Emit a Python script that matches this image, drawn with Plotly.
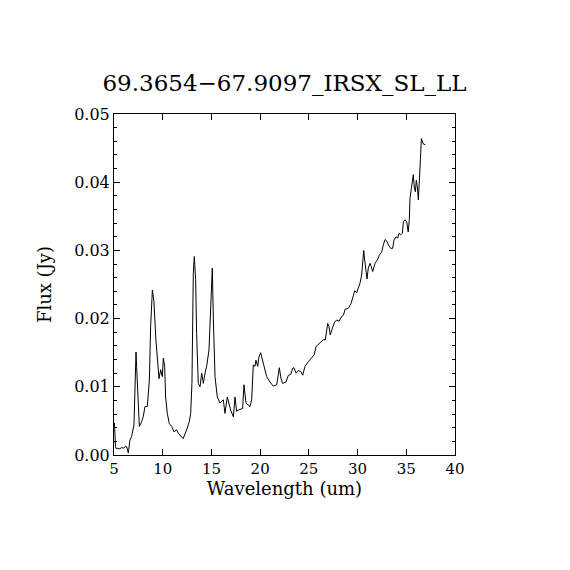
import plotly.graph_objects as go

# Spectrum (wavelength in um, flux in Jy)
wavelength = [5.05, 5.1, 5.15, 5.25, 5.4, 5.6, 5.8, 6.0, 6.2, 6.3, 6.47, 6.64, 6.8,
              7.05, 7.2, 7.26, 7.32, 7.45, 7.6, 7.84, 8.0, 8.18, 8.42, 8.63, 8.76,
              8.94, 9.1, 9.3, 9.48, 9.62, 9.79, 9.96, 10.06, 10.2, 10.3, 10.47, 10.68,
              10.92, 11.16, 11.43, 11.6, 11.94, 12.1, 12.46, 12.73, 12.87, 13.0,
              13.14, 13.24, 13.38, 13.48, 13.65, 13.83, 14.0, 14.17, 14.34, 14.51,
              14.75, 14.96, 15.09, 15.2, 15.37, 15.6, 15.88, 16.22, 16.39, 16.63,
              16.97, 17.25, 17.42, 17.59, 17.76, 18.2, 18.34, 18.55, 18.79, 18.96,
              19.13, 19.3, 19.47, 19.57, 19.75, 19.88, 20.05, 20.22, 20.43, 20.67,
              21.0, 21.35, 21.7, 21.86, 21.97, 22.14, 22.31, 22.65, 22.9, 23.14,
              23.34, 23.47, 23.68, 23.92, 24.19, 24.37, 24.6, 24.95, 25.29, 25.56,
              25.73, 25.97, 26.32, 26.48, 26.69, 26.83, 26.94, 27.07, 27.2, 27.41,
              27.65, 27.86, 28.1, 28.3, 28.54, 28.74, 29.05, 29.33, 29.56, 29.71,
              29.91, 30.08, 30.25, 30.42, 30.53, 30.63, 30.73, 30.86, 30.97, 31.1,
              31.28, 31.41, 31.55, 31.79, 32.03, 32.23, 32.48, 32.64, 32.82, 32.99,
              33.16, 33.4, 33.6, 33.74, 33.94, 34.12, 34.25, 34.42, 34.6, 34.7,
              34.87, 35.04, 35.2, 35.31, 35.38, 35.52, 35.65, 35.72, 35.82, 35.93,
              36.03, 36.13, 36.24, 36.34, 36.45, 36.55, 36.65, 36.75, 36.96]
flux = [0.0047, 0.0025, 0.0012, 0.0009, 0.0010, 0.0009, 0.0011, 0.0010, 0.0013, 0.0012,
        0.0003, 0.0022, 0.0027, 0.0044, 0.0120, 0.0151, 0.0130, 0.0080, 0.0042, 0.0049,
        0.0056, 0.0071, 0.0071, 0.0110, 0.0188, 0.0242, 0.0225, 0.0169, 0.0130, 0.0112,
        0.0125, 0.0115, 0.0142, 0.0130, 0.0085, 0.0061, 0.0046, 0.0042, 0.0034, 0.0037,
        0.0032, 0.0027, 0.0024, 0.0037, 0.0049, 0.0061, 0.0105, 0.0266, 0.0291, 0.0257,
        0.0178, 0.0105, 0.0100, 0.0120, 0.0105, 0.0120, 0.0130, 0.0154, 0.0242, 0.0274,
        0.0198, 0.0115, 0.0085, 0.0076, 0.0081, 0.0061, 0.0085, 0.0066, 0.0056, 0.0085,
        0.0064, 0.0066, 0.0068, 0.0103, 0.0076, 0.0073, 0.0071, 0.0081, 0.0132, 0.0130,
        0.0139, 0.0130, 0.0144, 0.0150, 0.0139, 0.0127, 0.0115, 0.0107, 0.0101, 0.0103,
        0.0115, 0.0128, 0.0112, 0.0105, 0.0107, 0.0117, 0.0118, 0.0127, 0.0128, 0.0120,
        0.0124, 0.0122, 0.0117, 0.0130, 0.0137, 0.0142, 0.0147, 0.0159, 0.0162, 0.0166,
        0.0169, 0.0169, 0.0183, 0.0193, 0.0188, 0.0176, 0.0186, 0.0195, 0.0198, 0.0196,
        0.0202, 0.0205, 0.0214, 0.0215, 0.0222, 0.0232, 0.0241, 0.0238, 0.0244, 0.0252,
        0.0264, 0.0281, 0.0300, 0.0286, 0.0266, 0.0258, 0.0274, 0.0281, 0.0276, 0.0269,
        0.0281, 0.0286, 0.0293, 0.0298, 0.0308, 0.0316, 0.0314, 0.0308, 0.0303, 0.0303,
        0.0315, 0.0320, 0.0318, 0.0325, 0.0323, 0.0325, 0.0342, 0.0345, 0.0342, 0.0327,
        0.0345, 0.0376, 0.0391, 0.0403, 0.0411, 0.0393, 0.0386, 0.0403, 0.0393, 0.0374,
        0.0396, 0.0433, 0.0464, 0.0459, 0.0456, 0.0455]

titulo = "69.3654\u221267.9097_IRSX_SL_LL"
fonte = "DejaVu Serif"

fig = go.Figure()
fig.add_trace(go.Scatter(x=wavelength, y=flux, mode="lines",
                         line=dict(color="black", width=1), showlegend=False))

# Formatação do gráfico (estilo IDL)
fig.update_layout(
    width=570, height=570,
    paper_bgcolor="white", plot_bgcolor="white",
    margin=dict(l=106, r=123, t=106, b=123),
    title=dict(text=titulo, xref="paper", x=0.5, xanchor="center",
               y=0.869, yanchor="middle",
               font=dict(family=fonte, size=23, color="black")),
    font=dict(family=fonte, size=15, color="black"),
    xaxis=dict(range=[5, 40], tickvals=[5, 10, 15, 20, 25, 30, 35, 40],
               ticks="inside", ticklen=6, tickcolor="black", showline=True,
               linecolor="black", linewidth=1, mirror="ticks", showgrid=False,
               zeroline=False, tickfont=dict(size=15),
               title=dict(text="Wavelength (um)", standoff=2)),
    yaxis=dict(range=[0, 0.05], tickvals=[0, 0.01, 0.02, 0.03, 0.04, 0.05],
               ticktext=["0.00", "0.01", "0.02", "0.03", "0.04", "0.05"],
               ticks="inside", ticklen=6, tickcolor="black", showline=True,
               linecolor="black", linewidth=1, mirror="ticks", showgrid=False,
               zeroline=False, tickfont=dict(size=16),
               minor=dict(dtick=0.002, ticks="inside", ticklen=3, tickcolor="black",
                          showgrid=False),
               title=dict(text="Flux (Jy)", standoff=17)),
)

fig.write_html("out.html")
